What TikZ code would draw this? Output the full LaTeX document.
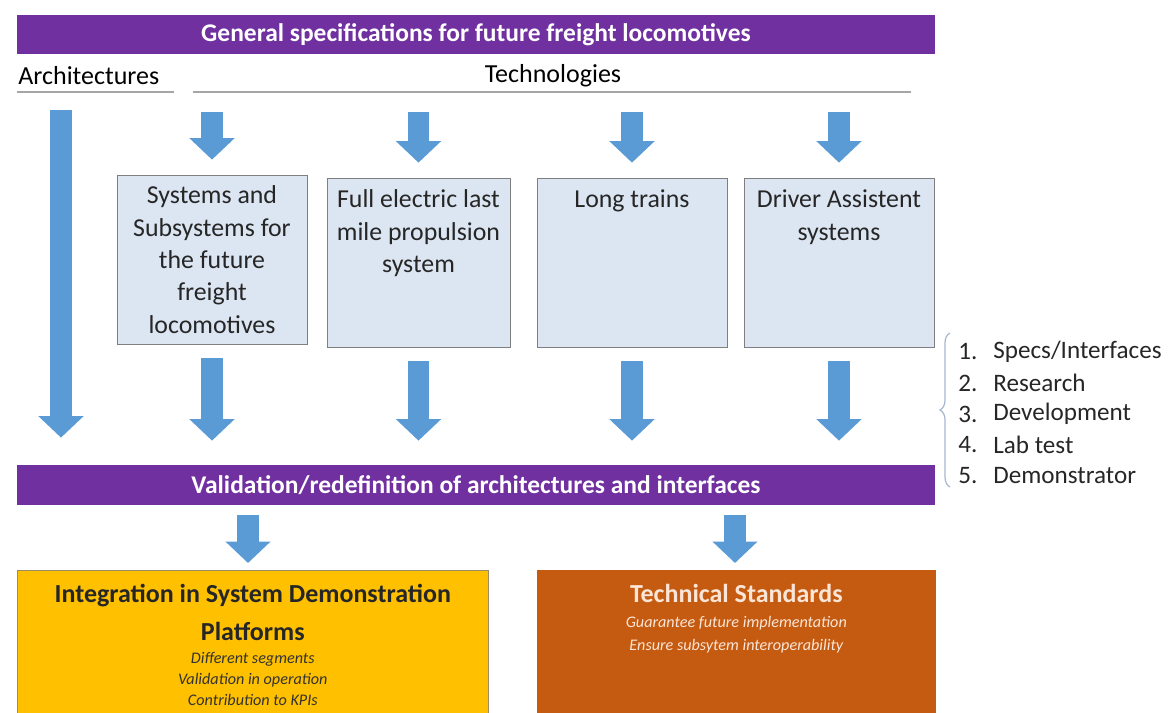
\documentclass[tikz,border=0pt]{standalone}
\usepackage{fontspec}
\setmainfont{Carlito}
\usetikzlibrary{arrows.meta,decorations.pathreplacing,positioning}

\definecolor{barpurple}{HTML}{7030A0}
\definecolor{arrowblue}{HTML}{5B9BD5}
\definecolor{boxblue}{HTML}{DCE6F2}
\definecolor{boxgray}{HTML}{7F7F7F}
\definecolor{platyellow}{HTML}{FFC000}
\definecolor{stdorange}{HTML}{C55A11}
\definecolor{stdtext}{HTML}{FBE5D6}
\definecolor{bracegray}{HTML}{A6B7CF}

\begin{document}
\begin{tikzpicture}[x=0.02cm,y=-0.02cm,
  bar/.style={fill=barpurple, text=white, font=\bfseries\fontsize{14.5}{17}\selectfont,
    minimum width=18.36cm, minimum height=0.8cm, inner sep=0pt},
  techbox/.style={draw=boxgray, fill=boxblue, minimum width=3.8cm, minimum height=3.38cm, inner sep=0pt},
  boxtext/.style={align=center, font=\fontsize{14.7}{18.4}\selectfont, text=black!85, anchor=north, inner sep=0pt},
  blockarrow/.style={draw=arrowblue, line width=0.43cm, -{Triangle[width=0.88cm,length=0.43cm]}},
  headline/.style={draw=black!35, line width=0.6pt},
  listitem/.style={anchor=west, font=\fontsize{14.3}{17}\selectfont, text=black!85, inner sep=0pt},
]
\useasboundingbox (0,0) rectangle (1171,713);

% top and middle bars
\node[bar] (spec) at (476,34.5) {General specifications for future freight locomotives};
\node[bar] (valid) at (476,485) {Validation/redefinition of architectures and interfaces};

% headings
\node[anchor=west, font=\fontsize{14.8}{17}\selectfont, inner sep=0pt] (arch) at (18,76) {Architectures};
\node[font=\fontsize{14.8}{17}\selectfont, inner sep=0pt] (tech) at (553,76) {Technologies};
\coordinate (archline) at (17,92);
\coordinate (techline) at (193,92);
\draw[headline] (archline) -- ++(157,0);
\draw[headline] (techline) -- (911,92);

% technology boxes
\node[techbox] (sys) at (212,259.5) {};
\node[techbox, minimum width=3.66cm] (elec) at (418.5,262.5) {};
\node[techbox] (long) at (632,262.5) {};
\node[techbox] (driver) at (839,262.5) {};

\node[boxtext] (systext) at ([yshift=-0.22cm]sys.north) {Systems and\\Subsystems for\\the future\\freight\\locomotives};
\node[boxtext] (electext) at ([yshift=-0.24cm]elec.north) {Full electric last\\mile propulsion\\system};
\node[boxtext] (longtext) at ([yshift=-0.24cm]long.north) {Long trains};
\node[boxtext] (drivertext) at ([yshift=-0.24cm]driver.north) {Driver Assistent\\systems};

% arrows
\coordinate (archtop) at (61,110);
\draw[blockarrow, shorten >=0.54cm] (archtop) -- (archtop |- valid.north);
\foreach \b in {sys,elec,long,driver}{
  \draw[blockarrow, shorten <=0.4cm, shorten >=0.3cm] (\b.north |- techline) -- (\b.north);
  \draw[blockarrow, shorten <=0.28cm, shorten >=0.48cm] (\b.south) -- (\b.south |- valid.north);
}

% result boxes
\node[draw=boxgray!80!platyellow, fill=platyellow, minimum width=9.42cm, minimum height=3.2cm,
  inner sep=0pt, anchor=north west] (platf) at (17,570) {};
\node[draw=stdorange, fill=stdorange, minimum width=7.96cm, minimum height=3.2cm,
  inner sep=0pt, anchor=north west] (standard) at (537,570) {};

\node[align=center, anchor=north, inner sep=0pt, font=\bfseries\fontsize{14.8}{21.6}\selectfont, text=black!85]
  (platftitle) at ([yshift=-0.27cm]platf.north) {Integration in System Demonstration\\Platforms};
\node[align=center, anchor=north, inner sep=0pt, font=\itshape\fontsize{9.2}{12}\selectfont, text=black!80]
  (platfsub) at ([yshift=-1.64cm]platf.north) {Different segments\\Validation in operation\\Contribution to KPIs};
\node[align=center, anchor=north, inner sep=0pt, font=\bfseries\fontsize{14.8}{17}\selectfont, text=stdtext]
  (stdtitle) at ([yshift=-0.27cm]standard.north) {Technical Standards};
\node[align=center, anchor=north, inner sep=0pt, font=\itshape\fontsize{9.2}{13}\selectfont, text=stdtext]
  (stdsub) at ([yshift=-0.92cm]standard.north) {Guarantee future implementation\\Ensure subsytem interoperability};

\draw[blockarrow, shorten <=0.2cm, shorten >=0.14cm] (valid.south -| 248,0) -- (platf.north -| 248,0);
\draw[blockarrow, shorten <=0.2cm, shorten >=0.14cm] (valid.south -| 735,0) -- (standard.north -| 735,0);

% phases
\coordinate (bracebot) at (950,487);
\coordinate (bracetop) at (950,333);
\draw[bracegray, line width=0.7pt, decorate, decoration={brace, amplitude=0.2cm}] (bracebot) -- (bracetop);
\foreach \n/\t [count=\i from 0] in {1/{Specs/Interfaces},2/Research,3/Development,4/Lab test,5/Demonstrator}{
  \node[listitem] (num\n) at (958,352+31*\i) {\n.};
  \node[listitem] (phase\n) at (993,352+31*\i) {\t};
}
\end{tikzpicture}
\end{document}
